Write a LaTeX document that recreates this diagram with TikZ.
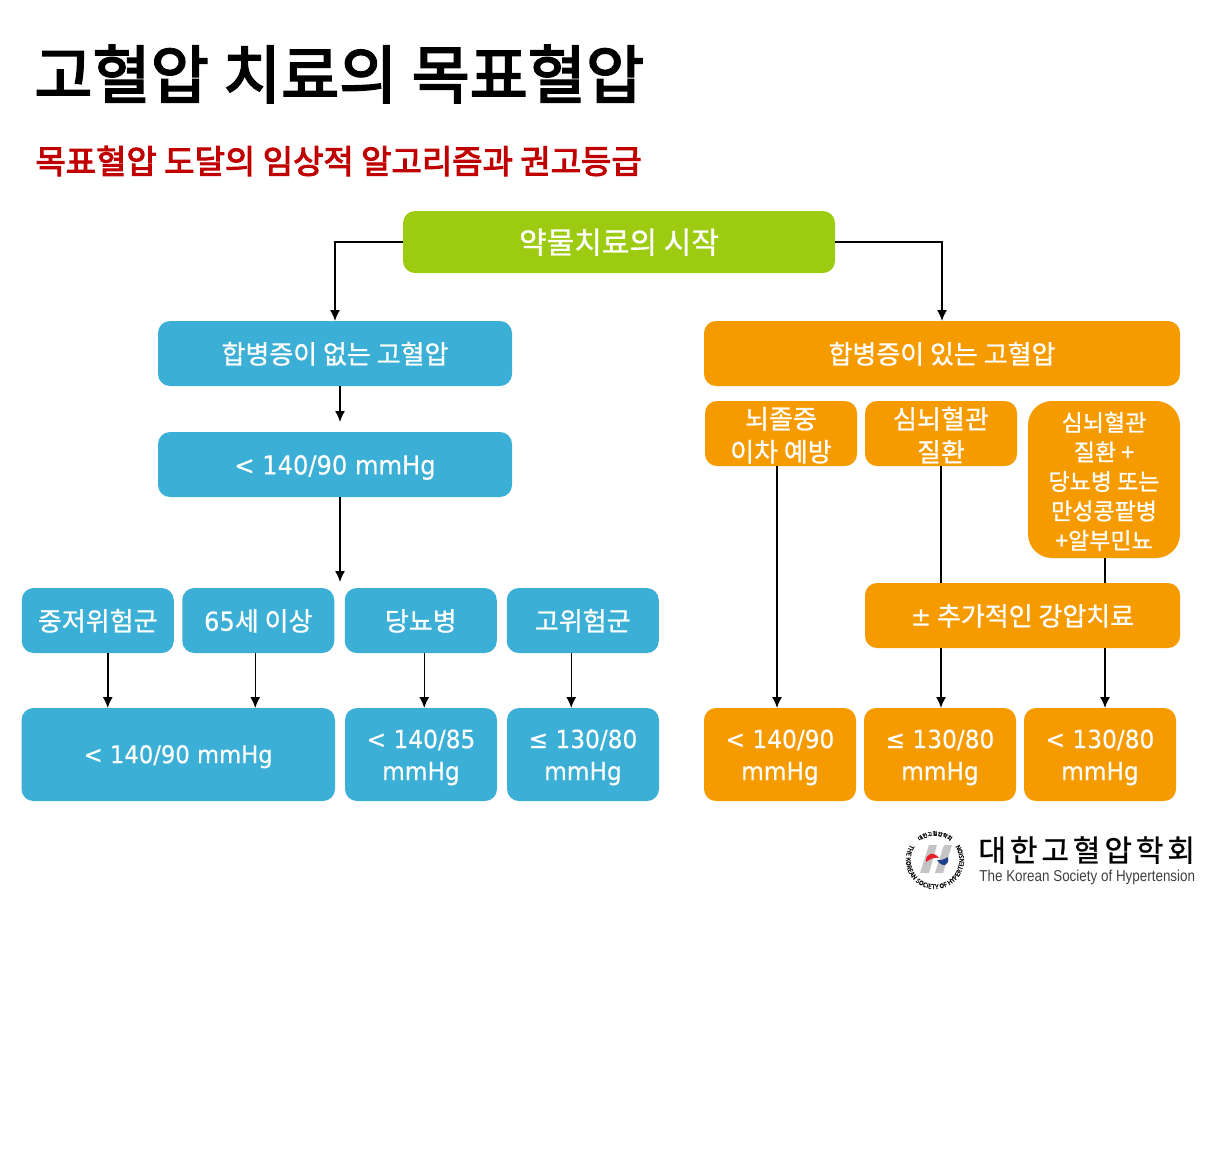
\documentclass[tikz,border=0pt]{standalone}
\usepackage{fontspec}
\setmainfont{Noto Sans CJK KR}[FakeBold=0.9]
\newfontfamily\headfont{Noto Sans CJK KR}[FakeBold=3]
\newfontfamily\ratefont{DejaVu Sans}[FakeStretch=0.93, FakeBold=0.3]
\newfontfamily\latinfont{Liberation Sans}[FakeStretch=0.85]
\newfontfamily\ringfont{Noto Sans CJK KR}[FakeBold=0.5]
\usepackage{xcolor}
\usetikzlibrary{
  arrows.meta,
  positioning,
  decorations.text
}
\definecolor{startgreen}{HTML}{9DCB12}
\definecolor{plainblue}{HTML}{3BAFD5}
\definecolor{compamber}{HTML}{F59B00}
\definecolor{subred}{HTML}{C00000}
\definecolor{logogrey}{HTML}{C4C4C4}
\definecolor{logored}{HTML}{E8202A}
\definecolor{logoblue}{HTML}{1F3F8F}
\tikzset{
  flowbox/.style={
    rectangle, rounded corners=6pt, fill=#1, text=white,
    minimum height=32.5pt, align=center, inner sep=0pt, outer sep=0pt,
    font=\fontsize{13}{16.5}\selectfont,
    execute at begin node={\rule{0pt}{11.2pt}}
  },
  textdrop/.style={
    execute at begin node={\rule{0pt}{#1}}
  },
  ratetext/.style={
    font=\fontsize{#1}{16}\ratefont
  },
  arrowstyle/.style={
    -{Latex[length=5.5pt,width=5pt]}, line width=0.75pt, color=black
  },
  linkstyle/.style={
    line width=0.75pt, color=black
  },
}

\begin{document}
\begin{tikzpicture}[x=0.5pt, y=0.5pt, node distance=5pt]
  \useasboundingbox (0,0) rectangle (1222,-1148);

  %% ── Heading ───────────────────────────────────────────────────────────────
  \node[anchor=west, inner sep=0pt, font=\fontsize{31.6}{36}\headfont] (title)
    at (34,-74) {고혈압 치료의 목표혈압};
  \node[anchor=west, inner sep=0pt, text=subred, font=\fontsize{16.5}{20}\headfont] (subtitle)
    at (35,-161) {목표혈압 도달의 임상적 알고리즘과 권고등급};

  %% ── Start ─────────────────────────────────────────────────────────────────
  \node[flowbox=startgreen, textdrop=12.6pt, minimum width=216pt, minimum height=31pt,
        font=\fontsize{15}{18}\selectfont] (start) at (619,-242) {약물치료의 시작};

  %% ── Without comorbidity ───────────────────────────────────────────────────
  \node[flowbox=plainblue, minimum width=177pt] (nocomp) at (335,-353.5) {합병증이 없는 고혈압};
  \node[flowbox=plainblue, ratetext=13, textdrop=12.6pt, minimum width=177pt, below=23pt of nocomp] (plaingoal) {< 140/90 mmHg};

  \node[flowbox=plainblue, minimum width=76pt] (lowrisk) at (97.75,-620.5) {중저위험군};
  \node[flowbox=plainblue, minimum width=76pt, right=4.25pt of lowrisk] (elderly) {{\ratefont 65}세 이상};
  \node[flowbox=plainblue, minimum width=76pt, right=5.25pt of elderly] (diabetes) {당뇨병};
  \node[flowbox=plainblue, minimum width=76pt, right=5pt of diabetes]   (highrisk) {고위험군};

  \node[flowbox=plainblue, ratetext=12.2, minimum width=156.75pt, minimum height=46.5pt] (lowgoal)
    at (178.25,-754.5) {< 140/90 mmHg};
  \node[flowbox=plainblue, ratetext=12.5, textdrop=28.2pt, minimum width=76pt, minimum height=46.5pt, right=5pt of lowgoal] (dmgoal)
    {< 140/85\\mmHg};
  \node[flowbox=plainblue, ratetext=12.5, textdrop=28.2pt, minimum width=76pt, minimum height=46.5pt, right=5pt of dmgoal] (highgoal)
    {≤ 130/80\\mmHg};

  %% ── With comorbidity ──────────────────────────────────────────────────────
  \node[flowbox=compamber, minimum width=238pt] (comp) at (942,-353.5) {합병증이 있는 고혈압};

  \node[flowbox=compamber, textdrop=29pt, minimum width=76pt] (stroke) at (781,-433.5) {뇌졸중\\이차 예방};
  \node[flowbox=compamber, textdrop=29pt, minimum width=76pt, right=4pt of stroke] (cardio) {심뇌혈관\\질환};
  \node[flowbox=compamber, textdrop=70.5pt, minimum width=76pt, minimum height=78.5pt, rounded corners=12pt,
        font=\fontsize{11.5}{14.75}\selectfont] (cardiodm) at (1104,-479.5)
    {심뇌혈관\\질환 +\\당뇨병 또는\\만성콩팥병\\+알부민뇨};
  \node[flowbox=compamber, minimum width=157.5pt] (addon) at (1022.5,-615.5) {{\ratefont ±} 추가적인 강압치료};

  \node[flowbox=compamber, ratetext=12.5, textdrop=28.2pt, minimum width=76pt, minimum height=46.5pt] (strokegoal)
    at (780,-754.5) {< 140/90\\mmHg};
  \node[flowbox=compamber, ratetext=12.5, textdrop=28.2pt, minimum width=76pt, minimum height=46.5pt, right=4pt of strokegoal] (cardiogoal)
    {≤ 130/80\\mmHg};
  \node[flowbox=compamber, ratetext=12.5, textdrop=28.2pt, minimum width=76pt, minimum height=46.5pt, right=4pt of cardiogoal] (dmcompgoal)
    {< 130/80\\mmHg};

  %% ── Arrows ────────────────────────────────────────────────────────────────
  \coordinate (nocomptip) at (340,-422);
  \coordinate (splittip) at (340,-582);

  \draw[arrowstyle] (start.west) -| (nocomp.north);
  \draw[arrowstyle] (start.east) -| (comp.north);
  \draw[arrowstyle] (nocomptip |- nocomp.south) -- (nocomptip);
  \draw[arrowstyle] (splittip |- plaingoal.south) -- (splittip);

  \draw[arrowstyle] ([xshift=5pt]lowrisk.south)  -- ([xshift=5pt]lowrisk.south |- lowgoal.north);
  \draw[arrowstyle] ([xshift=-1.5pt]elderly.south) -- ([xshift=-1.5pt]elderly.south |- lowgoal.north);
  \draw[arrowstyle] ([xshift=1.75pt]diabetes.south) -- ([xshift=1.75pt]diabetes.south |- dmgoal.north);
  \draw[arrowstyle] ([xshift=-5.75pt]highrisk.south) -- ([xshift=-5.75pt]highrisk.south |- highgoal.north);

  \draw[arrowstyle] ([xshift=-2pt]stroke.south) -- ([xshift=-2pt]stroke.south |- strokegoal.north);
  \draw[linkstyle] (cardio.south) -- (cardio.south |- addon.north);
  \draw[linkstyle] ([xshift=0.5pt]cardiodm.south) -- ([xshift=0.5pt]cardiodm.south |- addon.north);
  \draw[arrowstyle] (cardio.south |- addon.south) -- (cardio.south |- cardiogoal.north);
  \draw[arrowstyle] ([xshift=0.5pt]cardiodm.south |- addon.south) -- ([xshift=0.5pt]cardiodm.south |- dmcompgoal.north);

  %% ── Society mark ──────────────────────────────────────────────────────────
  \node[anchor=west, inner sep=0pt, font=\fontsize{15}{18}\selectfont\addfontfeature{LetterSpace=13}] (society)
    at (978,-850) {대한고혈압학회};
  \node[anchor=west, inner sep=0pt, text=black!75, font=\fontsize{7.9}{10}\latinfont] (societyen)
    at (979,-877) {The Korean Society of Hypertension};

  \fill[logogrey] (929,-845) -- (937,-845) -- (929,-873) -- (920,-873) -- cycle;
  \fill[logogrey] (944,-845) -- (952,-845) -- (943,-873) -- (935,-873) -- cycle;
  \fill[logored] (926,-862) .. controls (925,-853) and (934,-851) .. (939,-858)
    .. controls (935,-857) and (932,-858) .. (926,-862) -- cycle;
  \fill[logoblue] (948,-857) .. controls (950,-866) and (942,-868) .. (937,-860)
    .. controls (941,-861) and (944,-859) .. (948,-857) -- cycle;
  \path[postaction={decorate, decoration={text along path, text align=center,
        text={|\fontsize{2.6}{3}\ringfont|대한고혈압학회}}}]
    (910.5,-860) arc[start angle=180, end angle=0, radius=24.5];
  \path[postaction={decorate, decoration={text along path, text align=center,
        text={|\fontsize{3.2}{4}\ringfont|THE KOREAN SOCIETY OF HYPERTENSION}}}]
    (911.2,-843.4) arc[start angle=145, end angle=395, radius=29];
\end{tikzpicture}
\end{document}
